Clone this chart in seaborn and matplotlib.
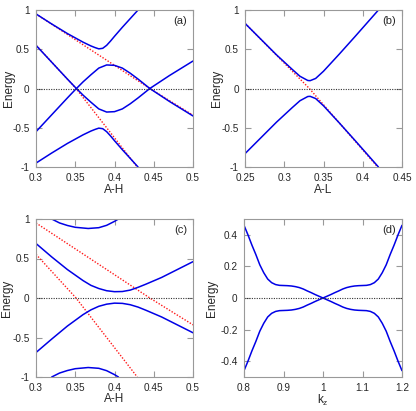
import matplotlib
matplotlib.use("Agg")
import matplotlib.pyplot as plt
import seaborn as sns

sns.set_style("ticks")
plt.rcParams['font.family'] = ['Liberation Sans', 'DejaVu Sans']
plt.rcParams['axes.unicode_minus'] = False

BLUE = '#0000e6'
RED = '#ff1a1a'
GREY = '#999999'

# unperturbed (red dotted) lines, used in panels a and c
red1_x = [0.30, 0.445, 0.50]
red1_y = [0.95, 0.0, -0.34]
red2_x = [0.30, 0.351, 0.429]
red2_y = [0.553, 0.0, -1.0]

# panel a
a1_x = [0.30, 0.32, 0.34, 0.35, 0.36, 0.37, 0.375, 0.38, 0.385, 0.39, 0.395, 0.40, 0.41, 0.42, 0.43]
a1_y = [0.95, 0.822, 0.70, 0.645, 0.59, 0.542, 0.522, 0.505, 0.512, 0.55, 0.605, 0.665, 0.78, 0.89, 1.0]
a4_y = [-0.95, -0.822, -0.70, -0.645, -0.59, -0.542, -0.522, -0.505, -0.512, -0.55, -0.605, -0.665, -0.78, -0.89, -1.0]
a2_x = [0.30, 0.32, 0.34, 0.35, 0.36, 0.37, 0.38, 0.39, 0.40, 0.41, 0.42, 0.43, 0.445, 0.47, 0.50]
a2_y = [0.55, 0.335, 0.12, 0.015, -0.085, -0.175, -0.26, -0.30, -0.295, -0.26, -0.195, -0.12, 0.0, 0.165, 0.35]
a3_y = [-0.55, -0.335, -0.12, -0.015, 0.085, 0.175, 0.26, 0.30, 0.295, 0.26, 0.195, 0.12, 0.0, -0.165, -0.35]

# panel b
b_red_x = [0.25, 0.332, 0.419]
b_red_y = [0.83, 0.0, -1.0]
b_x = [0.25, 0.27, 0.29, 0.31, 0.32, 0.33, 0.333, 0.34, 0.35, 0.37, 0.39, 0.42]
b_up_y = [0.83, 0.63, 0.43, 0.245, 0.156, 0.102, 0.10, 0.128, 0.22, 0.437, 0.66, 1.0]
b_dn_y = [-0.83, -0.63, -0.43, -0.245, -0.156, -0.102, -0.10, -0.128, -0.22, -0.437, -0.66, -1.0]

# panel c
c_arc_x = [0.32, 0.33, 0.34, 0.35, 0.3665, 0.38, 0.39, 0.40, 0.405]
c_top_y = [1.0, 0.95, 0.918, 0.895, 0.88, 0.89, 0.92, 0.97, 1.0]
c_bot_y = [-1.0, -0.95, -0.918, -0.895, -0.88, -0.89, -0.92, -0.97, -1.0]
c_mid_x = [0.30, 0.32, 0.34, 0.36, 0.37, 0.38, 0.39, 0.40, 0.41, 0.42, 0.43, 0.44, 0.46, 0.48, 0.50]
c_mu_y = [0.69, 0.52, 0.36, 0.22, 0.16, 0.12, 0.092, 0.08, 0.082, 0.10, 0.135, 0.175, 0.26, 0.36, 0.46]
c_ml_y = [-0.69, -0.52, -0.355, -0.21, -0.15, -0.105, -0.078, -0.065, -0.068, -0.085, -0.115, -0.155, -0.24, -0.34, -0.44]

# panel d
d_x = [0.80, 0.81, 0.82, 0.83, 0.84, 0.85, 0.86, 0.87, 0.88, 0.89, 0.90, 0.91, 0.92, 0.93, 0.94,
       0.95, 0.96, 0.97, 0.98, 0.99, 1.00,
       1.01, 1.02, 1.03, 1.04, 1.05, 1.06, 1.07, 1.08, 1.09, 1.10, 1.11, 1.12, 1.13, 1.14,
       1.15, 1.16, 1.17, 1.18, 1.19, 1.20]
d1_y = [0.46, 0.40, 0.335, 0.275, 0.21, 0.16, 0.12, 0.097, 0.085, 0.08, 0.079, 0.078, 0.076, 0.072, 0.066,
        0.057, 0.045, 0.034, 0.022, 0.011, 0.0,
        -0.011, -0.022, -0.034, -0.045, -0.057, -0.066, -0.072, -0.076, -0.078, -0.079, -0.08, -0.085,
        -0.097, -0.12, -0.16, -0.21, -0.275, -0.335, -0.40, -0.46]
d2_y = [-0.46, -0.40, -0.335, -0.275, -0.21, -0.16, -0.12, -0.097, -0.085, -0.08, -0.079, -0.078, -0.076,
        -0.072, -0.066, -0.057, -0.045, -0.034, -0.022, -0.011, 0.0,
        0.011, 0.022, 0.034, 0.045, 0.057, 0.066, 0.072, 0.076, 0.078, 0.079, 0.08, 0.085,
        0.097, 0.12, 0.16, 0.21, 0.275, 0.335, 0.40, 0.46]

fig = plt.figure(figsize=(4.16, 4.11), dpi=100)
W, H = 416, 411


def make_ax(l, r, t, b):
    return fig.add_axes([l / W, 1 - b / H, (r - l) / W, (b - t) / H])


def blue(ax, x, y):
    sns.lineplot(x=x, y=y, ax=ax, color=BLUE, linewidth=1.1, sort=False, estimator=None)


def red(ax, x, y):
    sns.lineplot(x=x, y=y, ax=ax, color=RED, linewidth=1.0, linestyle=(0, (1, 1.2)),
                 sort=False, estimator=None)


def style(ax, xlim, ylim, xticks, xlabels, yticks, ylabels, xlab, letter, ylab_x, xlab_y):
    ax.plot(xlim, [0, 0], color='#333333', linewidth=0.8, linestyle=(0, (1, 1.2)))
    ax.set_xlim(xlim)
    ax.set_ylim(ylim)
    ax.set_xticks(xticks)
    ax.set_xticklabels(xlabels)
    ax.set_yticks(yticks)
    ax.set_yticklabels(ylabels)
    ax.tick_params(direction='in', length=4, width=0.8, color=GREY, labelsize=7.2,
                   top=True, right=True)
    ax.tick_params(axis='x', pad=4)
    ax.tick_params(axis='y', pad=4.5)
    for s in ax.spines.values():
        s.set_color(GREY)
        s.set_linewidth(0.8)
    ax.set_xlabel(xlab, fontsize=8.5)
    ax.set_ylabel('Energy', fontsize=8.5)
    ax.yaxis.set_label_coords(ylab_x, 0.5)
    ax.xaxis.set_label_coords(0.5, xlab_y)
    ax.text(0.92, 0.93, letter, transform=ax.transAxes, ha='center', va='center', fontsize=8)


ax_a = make_ax(36, 193, 10, 167)
ax_b = make_ax(245, 402, 10, 167)
ax_c = make_ax(36, 193, 219, 377)
ax_d = make_ax(244, 402, 219, 377)

# (a)
red(ax_a, red1_x, red1_y)
red(ax_a, red2_x, red2_y)
blue(ax_a, a1_x, a1_y)
blue(ax_a, a1_x, a4_y)
blue(ax_a, a2_x, a2_y)
blue(ax_a, a2_x, a3_y)
style(ax_a, [0.3, 0.5], [-1, 1], [0.3, 0.35, 0.4, 0.45, 0.5], ['0.3', '0.35', '0.4', '0.45', '0.5'],
      [-1, -0.5, 0, 0.5, 1], ['-1', '-0.5', '0', '0.5', '1'], 'A-H', '(a)', -0.134, -0.108)

# (b)
red(ax_b, b_red_x, b_red_y)
blue(ax_b, b_x, b_up_y)
blue(ax_b, b_x, b_dn_y)
style(ax_b, [0.25, 0.45], [-1, 1], [0.25, 0.3, 0.35, 0.4, 0.45], ['0.25', '0.3', '0.35', '0.4', '0.45'],
      [-1, -0.5, 0, 0.5, 1], ['-1', '-0.5', '0', '0.5', '1'], 'A-L', '(b)', -0.14, -0.108)

# (c)
red(ax_c, red1_x, red1_y)
red(ax_c, red2_x, red2_y)
blue(ax_c, c_arc_x, c_top_y)
blue(ax_c, c_arc_x, c_bot_y)
blue(ax_c, c_mid_x, c_mu_y)
blue(ax_c, c_mid_x, c_ml_y)
style(ax_c, [0.3, 0.5], [-1, 1], [0.3, 0.35, 0.4, 0.45, 0.5], ['0.3', '0.35', '0.4', '0.45', '0.5'],
      [-1, -0.5, 0, 0.5, 1], ['-1', '-0.5', '0', '0.5', '1'], 'A-H', '(c)', -0.146, -0.101)

# (d)
blue(ax_d, d_x, d1_y)
blue(ax_d, d_x, d2_y)
style(ax_d, [0.8, 1.2], [-0.5, 0.5], [0.8, 0.9, 1.0, 1.1, 1.2], ['0.8', '0.9', '1', '1.1', '1.2'],
      [-0.4, -0.2, 0, 0.2, 0.4], ['-0.4', '-0.2', '0', '0.2', '0.4'], 'k$_\\mathregular{z}$', '(d)',
      -0.165, -0.101)

fig.savefig('out.png', dpi=100)
